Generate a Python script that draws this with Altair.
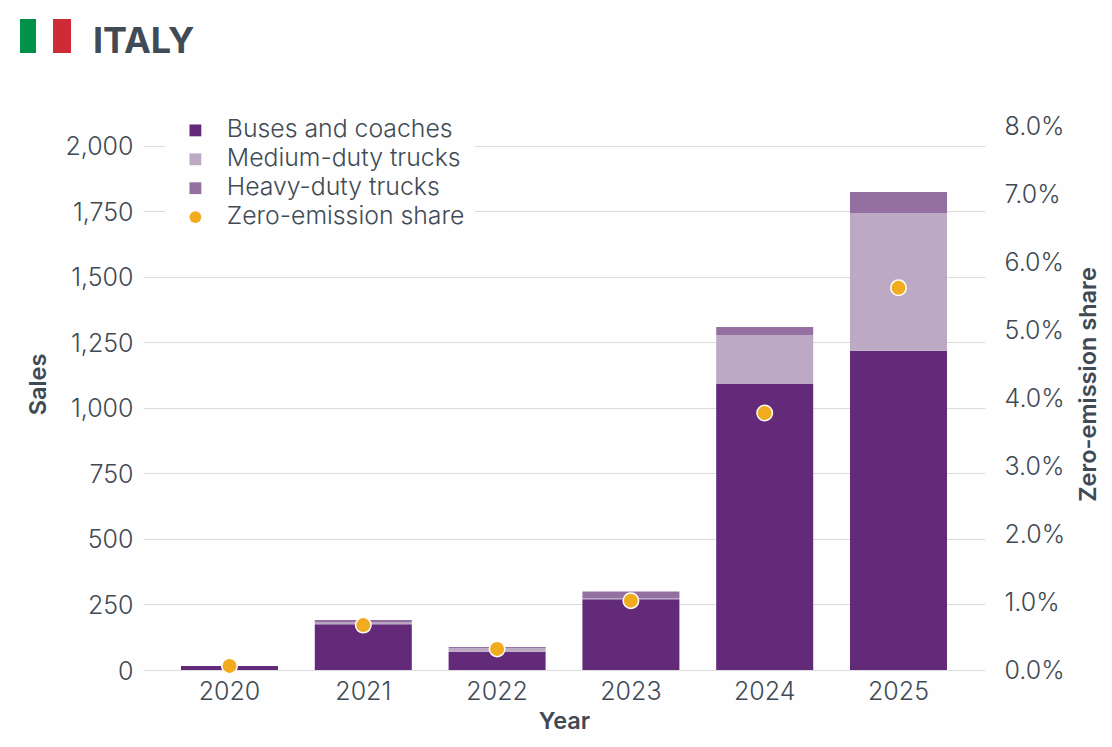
import altair as alt
import pandas as pd

years = ["2020", "2021", "2022", "2023", "2024", "2025"]
buses = [15, 175, 70, 270, 1091, 1218]
medium = [0, 6, 13, 5, 187, 526]
heavy = [0, 10, 5, 25, 31, 80]
share = [0.06, 0.66, 0.31, 1.02, 3.78, 5.62]
series = ["Buses and coaches", "Medium-duty trucks", "Heavy-duty trucks", "Zero-emission share"]
colors = ["#622a78", "#bcaac5", "#93709f", "#f0ab1e"]
shapes = ["square", "square", "square", "circle"]
left_ticks = [0, 250, 500, 750, 1000, 1250, 1500, 1750, 2000]
right_ticks = [0, 1, 2, 3, 4, 5, 6, 7, 8]

FONT = "Inter"
TEXT = "#414b55"

rows = []
for i, y in enumerate(years):
    rows.append(dict(year=y, series=series[0], value=buses[i], o=0))
    rows.append(dict(year=y, series=series[1], value=medium[i], o=1))
    rows.append(dict(year=y, series=series[2], value=heavy[i], o=2))
bars_df = pd.DataFrame(rows)
share_df = pd.DataFrame(dict(year=years, share=share, series=series[3]))

xscale = alt.Scale(domain=years, paddingInner=0.275, paddingOuter=0.284)
color = alt.Color("series:N", scale=alt.Scale(domain=series, range=colors), title=None,
                  legend=alt.Legend(orient="none", legendX=22, legendY=-18, fillColor="#fefefe",
                                    labelFontSize=24.8, labelFont=FONT, labelColor=TEXT, labelFontWeight=300,
                                    symbolSize=140, rowPadding=2.9, labelOffset=19, padding=10,
                                    symbolOffset=8, symbolStrokeWidth=0, labelLimit=320))
shape = alt.Shape("series:N", scale=alt.Scale(domain=series, range=shapes), title=None)

bars = alt.Chart(bars_df).mark_bar(opacity=1).encode(
    x=alt.X("year:N", scale=xscale, sort=years,
            axis=alt.Axis(title="Year", titleFont=FONT, titleFontSize=23.5, titleFontWeight=600, titleColor=TEXT,
                          titlePadding=5, labelFont=FONT, labelFontSize=25, labelColor=TEXT, labelFontWeight=300,
                          labelAngle=0, labelPadding=9, ticks=False, domain=False, grid=False)),
    y=alt.Y("value:Q", stack="zero", scale=alt.Scale(domain=[0, 2076], nice=False),
            axis=alt.Axis(values=left_ticks, format=",d", title="Sales", titleFont=FONT, titleFontSize=23.5,
                          titleFontWeight=600, titleColor=TEXT, titleX=-105, titleY=258, titleBaseline="middle",
                          titleAngle=270, labelFont=FONT, labelFontSize=25, labelOffset=1,
                          labelFontWeight=300, labelColor=TEXT, labelPadding=10, ticks=False, domain=False,
                          grid=True, gridColor="#dcdcdc", gridWidth=1)),
    color=color,
    order=alt.Order("o:Q"),
)

points = alt.Chart(share_df).mark_point(filled=True, size=240, stroke="white", strokeWidth=1.5, opacity=1,
                                         fillOpacity=1).encode(
    x=alt.X("year:N", scale=xscale, sort=years),
    y=alt.Y("share:Q", scale=alt.Scale(domain=[0, 8], nice=False),
            axis=alt.Axis(values=right_ticks, format=".1f", labelExpr="datum.label + '%'", orient="right",
                          title="Zero-emission share", titleFont=FONT, titleFontSize=23.5, titleFontWeight=600,
                          titleColor=TEXT, titleX=103, titleY=258, titleAngle=270, titleBaseline="middle",
                          labelFont=FONT, labelFontSize=25, labelFontWeight=300,
                          labelColor=TEXT, labelPadding=19, ticks=False, domain=False, grid=False)),
    color=alt.Color("series:N", scale=alt.Scale(domain=series, range=colors), title=None),
    shape=shape,
)

one = pd.DataFrame(dict(a=[0]))
backdrop = alt.Chart(one).mark_rect(fill="#000000", opacity=0.004).encode(
    x=alt.value(-123), x2=alt.value(957), y=alt.value(-41), y2=alt.value(614))
green = alt.Chart(one).mark_rect(fill="#00924a").encode(
    x=alt.value(-123), x2=alt.value(-107), y=alt.value(-107), y2=alt.value(-73))
red = alt.Chart(one).mark_rect(fill="#cf2a36").encode(
    x=alt.value(-90), x2=alt.value(-72), y=alt.value(-107), y2=alt.value(-73))
title = alt.Chart(one).mark_text(align="left", baseline="alphabetic", font=FONT, fontSize=36, fontWeight=700,
                                 color=TEXT).encode(
    x=alt.value(-50), y=alt.value(-73), text=alt.value("ITALY"))

chart = alt.layer(backdrop, bars, points, green, red, title).resolve_scale(y="independent").properties(
    width=842, height=544,
    autosize=alt.AutoSizeParams(type="none"),
    padding={"left": 135, "top": 118, "right": 118, "bottom": 68},
    background="white",
).configure_view(stroke=None)

chart.save("out.html", embed_options={"renderer": "svg", "actions": False})
